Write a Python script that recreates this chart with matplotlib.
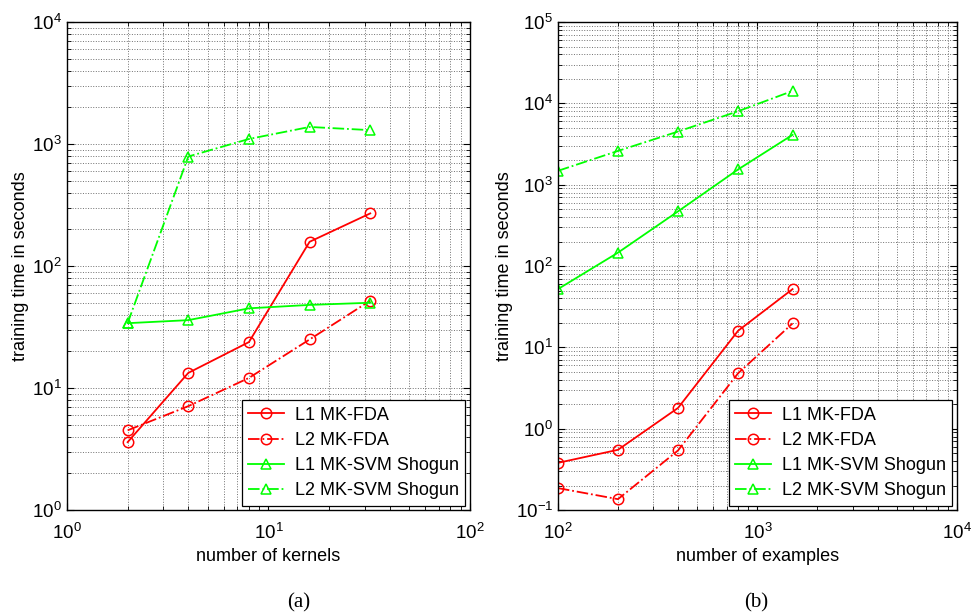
import numpy as np
import matplotlib.pyplot as plt

plt.rcParams['font.family'] = ['Liberation Sans', 'DejaVu Sans']
plt.rcParams['mathtext.fontset'] = 'custom'
plt.rcParams['mathtext.rm'] = 'Liberation Sans'

# (a) training time vs number of kernels
kernels = [2, 4, 8, 16, 32]
k_l1_fda = [3.6, 13.3, 23.8, 158, 270]
k_l2_fda = [4.5, 7.1, 12.1, 25, 52]
k_l1_svm = [34, 36, 45, 48, 50]
k_l2_svm = [34, 790, 1100, 1380, 1300]

# (b) training time vs number of examples
examples = [100, 200, 400, 800, 1500]
e_l1_fda = [0.38, 0.55, 1.8, 16, 52]
e_l2_fda = [0.186, 0.136, 0.54, 4.8, 19.7]
e_l1_svm = [52, 146, 470, 1540, 4100]
e_l2_svm = [1480, 2600, 4500, 8000, 14200]

labels = ['L1 MK-FDA', 'L2 MK-FDA', 'L1 MK-SVM Shogun', 'L2 MK-SVM Shogun']
red = (1, 0, 0)
green = (0, 1, 0)

fig = plt.figure(figsize=(9.72, 6.15), dpi=100)
ax1 = fig.add_axes([0.0689, 0.1707, 0.4146, 0.7935])
ax2 = fig.add_axes([0.574, 0.1707, 0.4105, 0.7935])


def draw(ax, x, series, xlim, ylim, xlabel):
    styles = [(red, '-', 'o'), (red, '-.', 'o'), (green, '-', '^'), (green, '-.', '^')]
    for y, (c, ls, m), lab in zip(series, styles, labels):
        ax.plot(x, y, color=c, linestyle=ls, marker=m, markersize=7.5,
                markerfacecolor='none', markeredgecolor=c, markeredgewidth=1.1,
                linewidth=1.3, label=lab)
    ax.set_xscale('log')
    ax.set_yscale('log')
    ax.set_xlim(*xlim)
    ax.set_ylim(*ylim)
    ax.grid(True, which='both', linestyle=':', color='#707070', linewidth=0.7)
    ax.tick_params(which='both', direction='in', top=True, right=True,
                   labelsize=13.5, colors='black')
    ax.tick_params(axis='x', pad=9)
    ax.tick_params(which='major', length=5)
    ax.tick_params(which='minor', length=3)
    ax.set_xlabel(xlabel, fontsize=13, labelpad=4)
    ax.set_ylabel('training time in seconds', fontsize=13, labelpad=2)
    for s in ax.spines.values():
        s.set_linewidth(1.0)
    leg = ax.legend(loc='lower right', fontsize=13, fancybox=False, framealpha=1,
                    edgecolor='black', borderaxespad=0.25, handlelength=2.0,
                    handletextpad=0.6, labelspacing=0.45, borderpad=0.35)
    leg.get_frame().set_linewidth(0.9)


draw(ax1, kernels, [k_l1_fda, k_l2_fda, k_l1_svm, k_l2_svm], (1, 100), (1, 1e4),
     'number of kernels')
draw(ax2, examples, [e_l1_fda, e_l2_fda, e_l1_svm, e_l2_svm], (100, 1e4), (0.1, 1e5),
     'number of examples')

fig.text(0.307, 0.012, '(a)', fontsize=15, family='Liberation Serif', ha='center')
fig.text(0.778, 0.012, '(b)', fontsize=15, family='Liberation Serif', ha='center')

fig.savefig('out.png', dpi=100)
